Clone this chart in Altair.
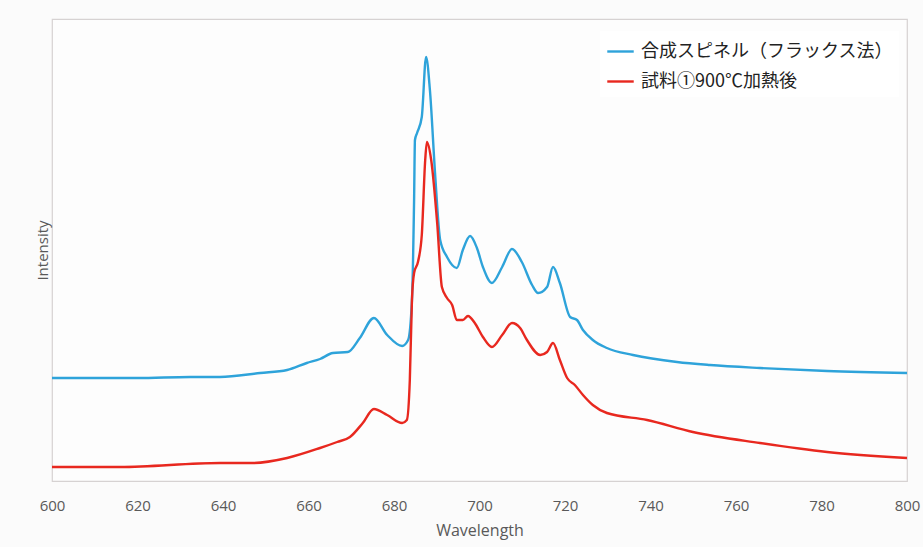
import altair as alt
import pandas as pd

# Emission spectra: wavelength (nm) vs. relative intensity (arb. units)
series_names = ["合成スピネル（フラックス法）", "試料①900℃加熱後"]
series_colors = ["#2ea3da", "#e8281f"]

blue_wl = [600, 620, 632.3, 639.3, 648.7, 655, 659.6, 662.7, 665.7, 669.2, 672, 675.3,
           678.4, 681.9, 683.3, 684.2, 684.7, 684.9, 685.4, 686.5, 687.5, 688.4, 689.6,
           690.8, 692.4, 694.7, 696.1, 697.8, 699.4, 700.8, 702.9, 705.3, 707.6, 709.9,
           712.3, 713.7, 715.8, 717.2, 718.8, 721.2, 722.8, 724.2, 726.5, 729.8, 735.9,
           746.2, 753.9, 765.6, 781.3, 800]
blue_int = [103, 103, 104, 104, 108, 111, 118, 122, 128, 129, 143, 163,
            146, 135, 141, 181, 281, 341, 348, 364, 424, 391, 308,
            241, 224, 213, 231, 245, 233, 214, 198, 214, 232, 219,
            196, 188, 194, 214, 198, 164, 161, 151, 141, 133, 126,
            119, 116, 113, 110, 108]

red_wl = [600, 615.9, 639.3, 647, 655, 662.7, 666.7, 669.7, 672.7, 675.3, 678.4, 681.9,
          683, 683.7, 684.2, 684.7, 685.6, 686.5, 687.3, 687.7, 688.7, 690.1, 691.2,
          692.4, 693.6, 694.7, 696.1, 697.3, 698.9, 700.8, 702.9, 705.3, 707.6, 709.5,
          711.1, 714.2, 715.8, 717.2, 718.8, 720.5, 722.3, 724.2, 726.5, 729.8, 739.2,
          749.9, 765.6, 781.3, 800]
red_int = [14, 14, 18, 18, 23, 33, 39, 44, 58, 72, 66, 58,
           61, 101, 181, 208, 219, 246, 321, 339, 321, 258, 194,
           183, 176, 161, 161, 165, 158, 144, 134, 146, 158, 153,
           141, 126, 129, 138, 121, 103, 96, 86, 76, 68, 61,
           49, 38, 29, 23]

x_ticks = [600, 620, 640, 660, 680, 700, 720, 740, 760, 780, 800]

df = pd.concat([
    pd.DataFrame({"wl": blue_wl, "intensity": blue_int, "series": series_names[0], "order": 0}),
    pd.DataFrame({"wl": red_wl, "intensity": red_int, "series": series_names[1], "order": 1}),
])

chart = alt.Chart(df).mark_line(strokeWidth=2.4, interpolate="monotone").encode(
    x=alt.X("wl:Q", title="Wavelength",
            scale=alt.Scale(domain=[600, 800], nice=False, zero=False),
            axis=alt.Axis(values=x_ticks, ticks=False, domain=False, grid=False,
                          labelFlush=False,
                          labelFont="Open Sans", labelFontSize=15, labelColor="#595959",
                          labelPadding=17, titleFont="Open Sans", titleFontSize=16,
                          titleFontWeight="normal", titleColor="#595959", titlePadding=9)),
    y=alt.Y("intensity:Q", title="Intensity",
            scale=alt.Scale(domain=[0, 462], nice=False),
            axis=alt.Axis(labels=False, ticks=False, domain=False, grid=False,
                          titleFont="Open Sans", titleFontSize=15, titleFontWeight="normal",
                          titleColor="#595959", titlePadding=2)),
    color=alt.Color("series:N",
                    scale=alt.Scale(domain=series_names, range=series_colors),
                    legend=alt.Legend(title=None, orient="none", legendX=548, legendY=12,
                                      symbolType="stroke", symbolSize=700, symbolStrokeWidth=2.4,
                                      labelFont="Noto Sans CJK JP", labelFontSize=18,
                                      labelColor="#222222", labelLimit=400, rowPadding=6,
                                      fillColor="#ffffff", padding=6, labelOffset=6)),
    order="order:Q",
).properties(
    width=855, height=462,
    autosize=alt.AutoSizeParams(type="none"),
    padding={"left": 52, "top": 19, "right": 16, "bottom": 66},
    background="#fbfbfb",
).configure_view(
    stroke="#d6d2d2", strokeWidth=1.2, fill="#fdfdfd",
)

chart.save("out.html", embed_options={"renderer": "svg", "actions": False})
